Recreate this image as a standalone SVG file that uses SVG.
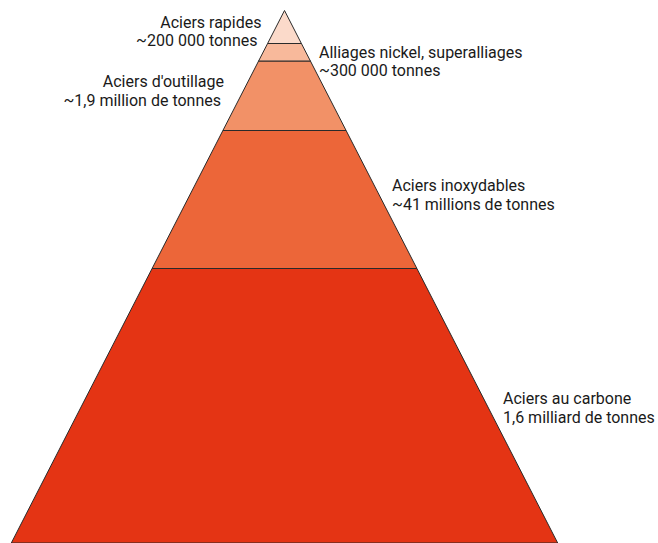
<svg xmlns="http://www.w3.org/2000/svg" width="658" height="543" viewBox="0 0 658 543">
<style>
.band{stroke:#2a2a2a;stroke-width:1;stroke-linejoin:round}
.lbl{font-family:Roboto,"Liberation Sans",sans-serif;font-size:16px;fill:#1a1a1a}
.e{text-anchor:end}
</style>
<rect width="658" height="543" fill="#ffffff"/>
<g id="carbone">
<polygon class="band" points="152.1,268.5 416.9,268.5 557.7,543 11.3,543" fill="#e43414"/>
<text class="lbl" x="503" y="404">Aciers au carbone</text>
<text class="lbl" x="503" y="423">1,6 milliard de tonnes</text>
</g>
<g id="inox">
<polygon class="band" points="222.9,130.5 346.1,130.5 416.9,268.5 152.1,268.5" fill="#ec6639"/>
<text class="lbl" x="392" y="190.5">Aciers inoxydables</text>
<text class="lbl" x="392" y="209.5">~41 millions de tonnes</text>
</g>
<g id="outillage">
<polygon class="band" points="258.6,61 310.4,61 346.1,130.5 222.9,130.5" fill="#f29167"/>
<text class="lbl e" x="224" y="86.5">Aciers d'outillage</text>
<text class="lbl e" x="221" y="105.5">~1,9 million de tonnes</text>
</g>
<g id="nickel">
<polygon class="band" points="267.6,43.5 301.4,43.5 310.4,61 258.6,61" fill="#f8b99b"/>
<text class="lbl" x="319" y="57.5">Alliages nickel, superalliages</text>
<text class="lbl" x="319" y="75.5">~300 000 tonnes</text>
</g>
<g id="rapides">
<polygon class="band" points="284.5,10.5 301.4,43.5 267.6,43.5" fill="#fbdaca"/>
<text class="lbl e" x="261.5" y="27.5">Aciers rapides</text>
<text class="lbl e" x="257.5" y="45.5">~200 000 tonnes</text>
</g>
<g id="connectors"></g>
</svg>
